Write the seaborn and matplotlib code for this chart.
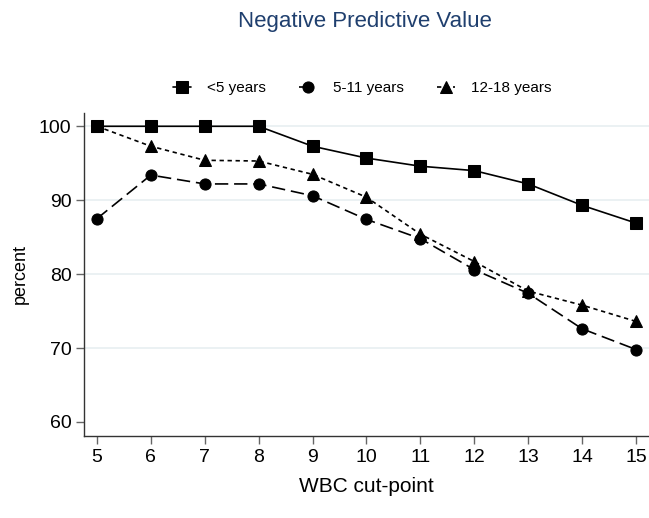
import numpy as np
import pandas as pd
import seaborn as sns
from matplotlib import pyplot as plt

# WBC cut-points and negative predictive values (%) per age group
cut_points = [5, 6, 7, 8, 9, 10, 11, 12, 13, 14, 15]
under5 = [100, 100, 100, 100, 97.3, 95.7, 94.6, 94.0, 92.2, 89.3, 86.9]
age5_11 = [87.5, 93.4, 92.2, 92.2, 90.6, 87.4, 84.8, 80.6, 77.4, 72.6, 69.8]
age12_18 = [100, 97.3, 95.4, 95.3, 93.5, 90.4, 85.4, 81.7, 77.7, 75.8, 73.6]
groups = ["<5 years", "5-11 years", "12-18 years"]
y_ticks = [60, 70, 80, 90, 100]

df = pd.DataFrame({
    "cut": cut_points * 3,
    "value": under5 + age5_11 + age12_18,
    "group": np.repeat(groups, len(cut_points)),
})

sns.set_style("white")
plt.rcParams["font.family"] = ["Liberation Sans", "DejaVu Sans"]
plt.rcParams["text.color"] = "black"
plt.rcParams["axes.labelcolor"] = "black"

fig = plt.figure(figsize=(6.49, 5.18), dpi=100)
ax = fig.add_axes([0.1294, 0.1583, 0.8706, 0.6236])

sns.lineplot(
    data=df, x="cut", y="value", hue="group", style="group",
    hue_order=groups, style_order=groups,
    palette=["black"] * 3,
    markers={"<5 years": "s", "5-11 years": "o", "12-18 years": "^"},
    dashes={"<5 years": "", "5-11 years": (8, 3.5), "12-18 years": (2.6, 2.2)},
    markersize=8, linewidth=1.2, markeredgecolor="black",
    ax=ax, legend=True,
)

handles, labels = ax.get_legend_handles_labels()
ax.get_legend().remove()
fig.legend(handles, labels, loc="center", bbox_to_anchor=(0.558, 0.830),
           ncol=3, frameon=False, fontsize=11, handlelength=1.15,
           columnspacing=2.2, handletextpad=1.05)

ax.set_xlim(4.76, 15.24)
ax.set_ylim(58.1, 101.8)
ax.set_xticks(cut_points)
ax.set_yticks(y_ticks)
ax.tick_params(axis="both", which="major", direction="out", length=6,
               width=1, color="#666666", labelsize=14, pad=3,
               labelcolor="black", bottom=True, left=True)

ax.yaxis.grid(True, color="#e8eff1", linewidth=1.2)
ax.xaxis.grid(False)
ax.get_ygridlines()[0].set_visible(False)
ax.set_axisbelow(True)

for side in ["top", "right"]:
    ax.spines[side].set_visible(False)
for side in ["left", "bottom"]:
    ax.spines[side].set_color("#333333")
    ax.spines[side].set_linewidth(1)

ax.set_xlabel("WBC cut-point", fontsize=15, labelpad=8)
ax.set_ylabel("percent", fontsize=13, labelpad=7)
fig.text(0.563, 0.958, "Negative Predictive Value", ha="center", va="center",
         fontsize=16, color="#1f3f6e")

fig.savefig("out.png", dpi=100)
